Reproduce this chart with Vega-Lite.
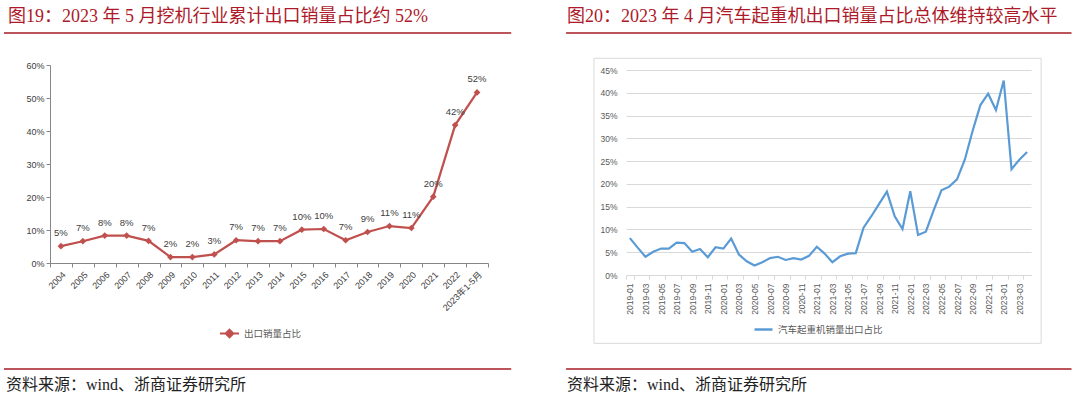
{
  "$schema": "https://vega.github.io/schema/vega-lite/v6.json",
  "background": "white",
  "padding": {"left": 3, "top": 8, "right": 0, "bottom": 0},
  "config": {
    "view": {"stroke": null},
    "font": "Liberation Sans, Noto Sans CJK SC",
    "axis": {"labelFont": "Liberation Sans, Noto Sans CJK SC", "labelColor": "#595959", "labelFontSize": 9, "title": null}
  },
  "resolve": {"scale": {"color": "independent"}, "legend": {"color": "independent"}},
  "spacing": 53,
  "hconcat": [
    {
      "spacing": 26,
      "resolve": {"scale": {"color": "independent"}, "legend": {"color": "independent"}},
      "vconcat": [
        {
          "width": 438, "height": 3,
          "data": {"values": [{}]},
          "title": {"text": "图19：2023 年 5 月挖机行业累计出口销量占比约 52%", "anchor": "start", "frame": "group", "dx": -42, "offset": -12, "baseline": "bottom", "font": "Liberation Serif, Noto Sans CJK SC", "fontSize": 18, "fontWeight": "normal", "color": "#ad1a2a"},
          "mark": {"type": "rule", "color": "#a61b24", "strokeWidth": 1.5},
          "encoding": {
            "x": {"datum": -0.105, "type": "quantitative", "scale": {"domain": [0, 1]}, "axis": null},
            "x2": {"datum": 1.053},
            "y": {"datum": 0.6667, "type": "quantitative", "scale": {"domain": [0, 1]}, "axis": null}
          }
        },
        {
          "width": 438, "height": 198,
          "data": {"values": [
            {"year": "2004", "share": 0.051},
            {"year": "2005", "share": 0.066},
            {"year": "2006", "share": 0.083},
            {"year": "2007", "share": 0.083},
            {"year": "2008", "share": 0.067},
            {"year": "2009", "share": 0.018},
            {"year": "2010", "share": 0.018},
            {"year": "2011", "share": 0.026},
            {"year": "2012", "share": 0.069},
            {"year": "2013", "share": 0.066},
            {"year": "2014", "share": 0.066},
            {"year": "2015", "share": 0.101},
            {"year": "2016", "share": 0.103},
            {"year": "2017", "share": 0.069},
            {"year": "2018", "share": 0.094},
            {"year": "2019", "share": 0.112},
            {"year": "2020", "share": 0.106},
            {"year": "2021", "share": 0.201},
            {"year": "2022", "share": 0.418},
            {"year": "2023年1-5月", "share": 0.517}
          ]},
          "encoding": {
            "x": {"field": "year", "type": "nominal", "sort": null, "bandPosition": 0.5,
                  "scale": {"type": "band", "paddingInner": 0, "paddingOuter": 0},
                  "axis": {"labelAngle": -45, "tickBand": "extent", "domainColor": "#868686", "tickColor": "#868686", "tickSize": 4, "labelPadding": 3, "labelColor": "#404040", "labelOverlap": false}},
            "y": {"field": "share", "type": "quantitative",
                  "scale": {"domain": [0, 0.6], "nice": false},
                  "axis": {"values": [0, 0.1, 0.2, 0.3, 0.4, 0.5, 0.6], "format": ".0%", "grid": false, "domainColor": "#868686", "tickColor": "#868686", "tickSize": 4, "labelColor": "#404040", "labelOverlap": false}}
          },
          "layer": [
            {"mark": {"type": "line", "color": "#c0504d", "strokeWidth": 2.2}},
            {"mark": {"type": "point", "shape": "diamond", "filled": true, "opacity": 1, "size": 45},
             "encoding": {"color": {"datum": "出口销量占比", "type": "nominal", "scale": {"range": ["#c0504d"]},
               "legend": {"orient": "none", "legendX": 169, "legendY": 258, "title": null, "symbolType": "M-1,0L1,0M0,-0.4L0.4,0L0,0.4L-0.4,0Z", "symbolSize": 361, "symbolStrokeColor": "#c0504d", "symbolStrokeWidth": 2, "symbolFillColor": "#c0504d", "labelFontSize": 9.5, "labelColor": "#595959", "labelFont": "Liberation Sans, Noto Sans CJK SC"}}}},
            {"mark": {"type": "text", "dy": -13, "fontSize": 9.5, "color": "#404040"},
             "encoding": {"text": {"field": "share", "type": "quantitative", "format": ".0%"}}}
          ]
        },
        {
          "width": 438, "height": 1,
          "data": {"values": [{}]},
          "title": {"text": "资料来源：wind、浙商证券研究所", "orient": "bottom", "anchor": "start", "frame": "group", "dx": -44, "offset": 7, "baseline": "top", "font": "Liberation Serif, Noto Sans CJK SC", "fontSize": 16, "fontWeight": "normal", "color": "#222222"},
          "mark": {"type": "rule", "color": "#a61b24", "strokeWidth": 1.5},
          "encoding": {
            "x": {"datum": -0.105, "type": "quantitative", "scale": {"domain": [0, 1]}, "axis": null},
            "x2": {"datum": 1.053},
            "y": {"datum": 0, "type": "quantitative", "scale": {"domain": [0, 1]}, "axis": null}
          }
        }
      ]
    },
    {
      "spacing": 23,
      "resolve": {"scale": {"color": "independent"}, "legend": {"color": "independent"}},
      "vconcat": [
        {
          "width": 405, "height": 1,
          "data": {"values": [{}]},
          "title": {"text": "图20：2023 年 4 月汽车起重机出口销量占比总体维持较高水平", "anchor": "start", "frame": "group", "dx": -59, "offset": -12, "baseline": "bottom", "font": "Liberation Serif, Noto Sans CJK SC", "fontSize": 18, "fontWeight": "normal", "color": "#ad1a2a"},
          "mark": {"type": "rule", "color": "#a61b24", "strokeWidth": 1.5},
          "encoding": {
            "x": {"datum": -0.148, "type": "quantitative", "scale": {"domain": [0, 1]}, "axis": null},
            "x2": {"datum": 1.1},
            "y": {"datum": 0, "type": "quantitative", "scale": {"domain": [0, 1]}, "axis": null}
          }
        },
        {
          "width": 405, "height": 205,
          "resolve": {"scale": {"x": "independent"}},
          "layer": [
            {
              "data": {"values": [{}]},
              "mark": {"type": "rect", "fill": null, "stroke": "#d9d9d9", "strokeWidth": 1},
              "encoding": {
                "x": {"datum": -0.079, "type": "quantitative", "scale": {"domain": [0, 1]}, "axis": null},
                "x2": {"datum": 1.025},
                "y": {"datum": 0.4757, "type": "quantitative", "scale": {"domain": [0, 0.45], "nice": false},
                      "axis": {"values": [0, 0.05, 0.1, 0.15, 0.2, 0.25, 0.3, 0.35, 0.4, 0.45], "format": ".0%", "grid": true, "gridColor": "#d9d9d9", "domain": false, "ticks": false, "labelPadding": 9, "labelFontSize": 8.5, "labelOverlap": false}},
                "y2": {"datum": -0.150}
              }
            },
            {
              "data": {"values": [
                {"month": "2019-01", "share": 0.081}, {"month": "2019-02", "share": 0.060}, {"month": "2019-03", "share": 0.040}, {"month": "2019-04", "share": 0.051},
                {"month": "2019-05", "share": 0.058}, {"month": "2019-06", "share": 0.058}, {"month": "2019-07", "share": 0.071}, {"month": "2019-08", "share": 0.070},
                {"month": "2019-09", "share": 0.051}, {"month": "2019-10", "share": 0.057}, {"month": "2019-11", "share": 0.039}, {"month": "2019-12", "share": 0.061},
                {"month": "2020-01", "share": 0.058}, {"month": "2020-02", "share": 0.080}, {"month": "2020-03", "share": 0.045}, {"month": "2020-04", "share": 0.030},
                {"month": "2020-05", "share": 0.021}, {"month": "2020-06", "share": 0.028}, {"month": "2020-07", "share": 0.037}, {"month": "2020-08", "share": 0.040},
                {"month": "2020-09", "share": 0.033}, {"month": "2020-10", "share": 0.037}, {"month": "2020-11", "share": 0.034}, {"month": "2020-12", "share": 0.042},
                {"month": "2021-01", "share": 0.062}, {"month": "2021-02", "share": 0.047}, {"month": "2021-03", "share": 0.028}, {"month": "2021-04", "share": 0.041},
                {"month": "2021-05", "share": 0.047}, {"month": "2021-06", "share": 0.048}, {"month": "2021-07", "share": 0.104}, {"month": "2021-08", "share": 0.129},
                {"month": "2021-09", "share": 0.156}, {"month": "2021-10", "share": 0.183}, {"month": "2021-11", "share": 0.129}, {"month": "2021-12", "share": 0.101},
                {"month": "2022-01", "share": 0.184}, {"month": "2022-02", "share": 0.088}, {"month": "2022-03", "share": 0.095}, {"month": "2022-04", "share": 0.142},
                {"month": "2022-05", "share": 0.186}, {"month": "2022-06", "share": 0.194}, {"month": "2022-07", "share": 0.210}, {"month": "2022-08", "share": 0.253},
                {"month": "2022-09", "share": 0.316}, {"month": "2022-10", "share": 0.373}, {"month": "2022-11", "share": 0.398}, {"month": "2022-12", "share": 0.362},
                {"month": "2023-01", "share": 0.427}, {"month": "2023-02", "share": 0.232}, {"month": "2023-03", "share": 0.253}, {"month": "2023-04", "share": 0.270}
              ]},
              "mark": {"type": "line", "strokeWidth": 2.2},
              "encoding": {
                "x": {"field": "month", "type": "nominal", "sort": null, "bandPosition": 0.5,
                      "scale": {"type": "band", "paddingInner": 0, "paddingOuter": 0},
                      "axis": {"values": ["2019-01","2019-03","2019-05","2019-07","2019-09","2019-11","2020-01","2020-03","2020-05","2020-07","2020-09","2020-11","2021-01","2021-03","2021-05","2021-07","2021-09","2021-11","2022-01","2022-03","2022-05","2022-07","2022-09","2022-11","2023-01","2023-03"],
                               "labelAngle": -90, "tickBand": "extent", "domainColor": "#d9d9d9", "tickColor": "#d9d9d9", "tickSize": 4, "labelPadding": 4, "labelFontSize": 8.5, "labelOverlap": false}},
                "y": {"field": "share", "type": "quantitative",
                      "scale": {"domain": [0, 0.45], "nice": false},
                      "axis": {"values": [0, 0.05, 0.1, 0.15, 0.2, 0.25, 0.3, 0.35, 0.4, 0.45], "format": ".0%", "grid": true, "gridColor": "#d9d9d9", "domain": false, "ticks": false, "labelPadding": 9, "labelFontSize": 8.5, "labelOverlap": false}},
                "color": {"datum": "汽车起重机销量出口占比", "type": "nominal", "scale": {"range": ["#5b9bd5"]},
                  "legend": {"orient": "none", "legendX": 127, "legendY": 249, "title": null, "symbolType": "stroke", "symbolSize": 324, "symbolStrokeWidth": 2.5, "labelFontSize": 9.5, "labelColor": "#595959", "labelFont": "Liberation Sans, Noto Sans CJK SC"}}
              }
            }
          ]
        },
        {
          "width": 405, "height": 2,
          "data": {"values": [{}]},
          "title": {"text": "资料来源：wind、浙商证券研究所", "orient": "bottom", "anchor": "start", "frame": "group", "dx": -59, "offset": 7, "baseline": "top", "font": "Liberation Serif, Noto Sans CJK SC", "fontSize": 16, "fontWeight": "normal", "color": "#222222"},
          "mark": {"type": "rule", "color": "#a61b24", "strokeWidth": 1.5},
          "encoding": {
            "x": {"datum": -0.148, "type": "quantitative", "scale": {"domain": [0, 1]}, "axis": null},
            "x2": {"datum": 1.1},
            "y": {"datum": 0, "type": "quantitative", "scale": {"domain": [0, 1]}, "axis": null}
          }
        }
      ]
    }
  ]
}
